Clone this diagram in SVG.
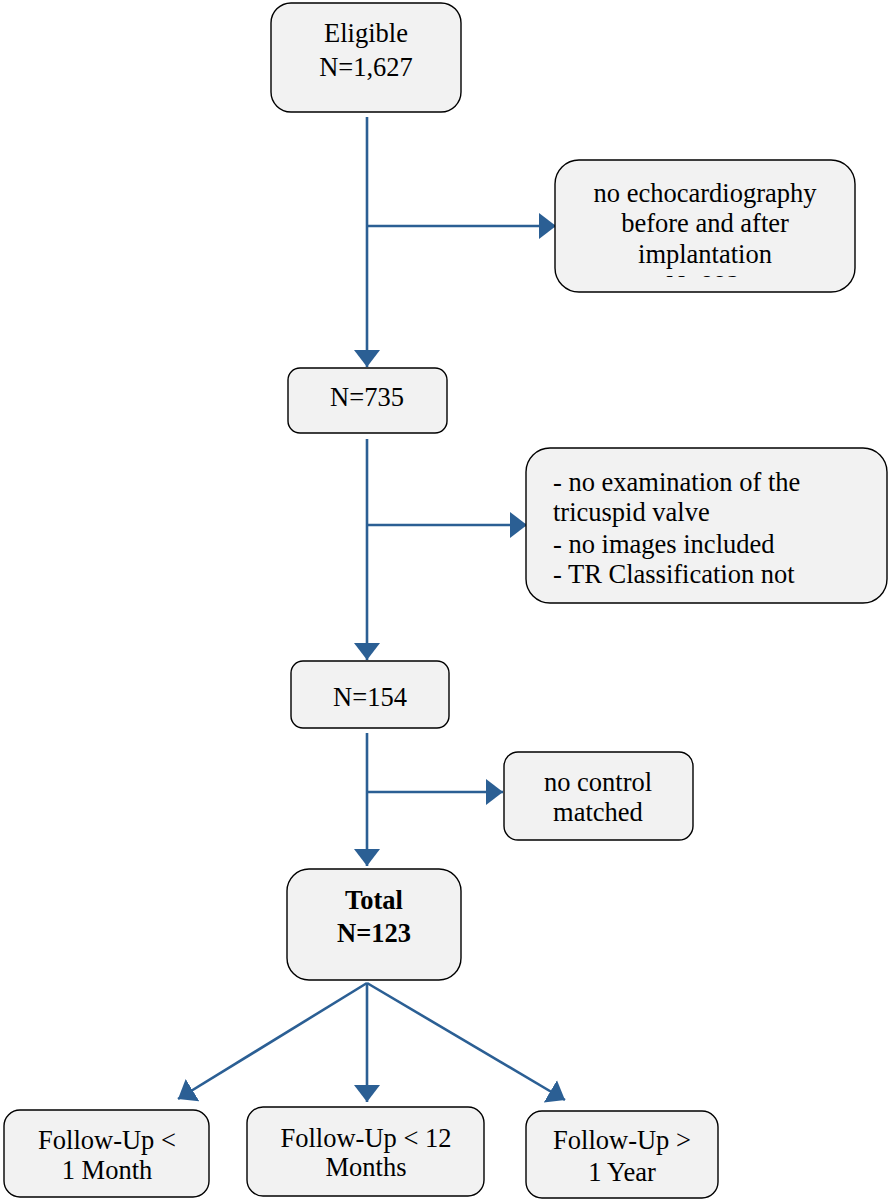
<svg xmlns="http://www.w3.org/2000/svg" width="888" height="1200" viewBox="0 0 888 1200">
<style>
.box{fill:#f2f2f2;stroke:#000;stroke-width:1.4}
.t{font-family:'Liberation Serif','Times New Roman',serif;font-size:26.5px;fill:#000}
.c{text-anchor:middle}
.b{font-weight:bold}
.ln{stroke:#2b5f94;stroke-width:2.6;fill:none}
</style>
<defs>
<marker id="ah" markerUnits="userSpaceOnUse" markerWidth="20" markerHeight="28" refX="17" refY="13" orient="auto" viewBox="0 0 20 28">
<path d="M0,0 L17,13 L0,26 Z" fill="#2b5f94"/>
</marker>
<clipPath id="echoClip"><rect x="555" y="160" width="300" height="117"/></clipPath>
</defs>
<rect width="888" height="1200" fill="#fff"/>
<g id="connectors">
<line class="ln" x1="367" y1="117" x2="367" y2="367" marker-end="url(#ah)"/>
<line class="ln" x1="367" y1="226" x2="556" y2="226" marker-end="url(#ah)"/>
<line class="ln" x1="367" y1="439" x2="367" y2="660" marker-end="url(#ah)"/>
<line class="ln" x1="367" y1="525" x2="527" y2="525" marker-end="url(#ah)"/>
<line class="ln" x1="367" y1="733" x2="367" y2="866" marker-end="url(#ah)"/>
<line class="ln" x1="367" y1="792" x2="503" y2="792" marker-end="url(#ah)"/>
<line class="ln" x1="367" y1="983" x2="178" y2="1099" marker-end="url(#ah)"/>
<line class="ln" x1="367" y1="983" x2="367" y2="1102" marker-end="url(#ah)"/>
<line class="ln" x1="367" y1="983" x2="565" y2="1100" marker-end="url(#ah)"/>
</g>
<g id="eligible">
<rect class="box" x="271" y="3" width="190" height="109" rx="20"/>
<text class="t c" x="366" y="42">Eligible</text>
<text class="t c" x="366" y="76">N=1,627</text>
</g>
<g id="no-echo">
<rect class="box" x="555" y="160" width="300" height="132" rx="24"/>
<text class="t c" x="705" y="202">no echocardiography</text>
<text class="t c" x="705" y="232">before and after</text>
<text class="t c" x="705" y="263">implantation</text>
<text class="t c" x="703" y="294" clip-path="url(#echoClip)">N=892</text>
</g>
<g id="n735">
<rect class="box" x="288" y="368" width="159" height="65" rx="12"/>
<text class="t c" x="367" y="406">N=735</text>
</g>
<g id="tr-exclusion">
<rect class="box" x="526" y="448" width="361" height="155" rx="24"/>
<text class="t" x="553" y="491">- no examination of the</text>
<text class="t" x="553" y="521">tricuspid valve</text>
<text class="t" x="553" y="553">- no images included</text>
<text class="t" x="553" y="583">- TR Classification not</text>
</g>
<g id="n154">
<rect class="box" x="291" y="661" width="158" height="67" rx="12"/>
<text class="t c" x="370" y="706">N=154</text>
</g>
<g id="no-control">
<rect class="box" x="504" y="752" width="189" height="88" rx="14"/>
<text class="t c" x="598" y="791">no control</text>
<text class="t c" x="598" y="821">matched</text>
</g>
<g id="total">
<rect class="box" x="287" y="869" width="174" height="111" rx="22"/>
<text class="t c b" x="374" y="909">Total</text>
<text class="t c b" x="374" y="942">N=123</text>
</g>
<g id="fu-1month">
<rect class="box" x="4" y="1110" width="205" height="87" rx="16"/>
<text class="t c" x="107" y="1149">Follow-Up &lt;</text>
<text class="t c" x="107" y="1179">1 Month</text>
</g>
<g id="fu-12months">
<rect class="box" x="247" y="1107" width="237" height="89" rx="16"/>
<text class="t c" x="366" y="1147">Follow-Up &lt; 12</text>
<text class="t c" x="366" y="1176">Months</text>
</g>
<g id="fu-1year">
<rect class="box" x="526" y="1111" width="192" height="87" rx="16"/>
<text class="t c" x="622" y="1149">Follow-Up &gt;</text>
<text class="t c" x="622" y="1181">1 Year</text>
</g>
</svg>
